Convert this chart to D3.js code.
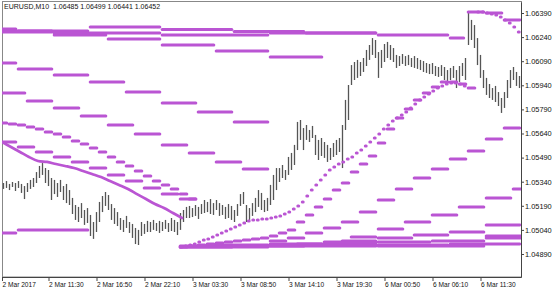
<!DOCTYPE html>
<html>
<head>
<meta charset="utf-8">
<script src="https://cdn.jsdelivr.net/npm/d3@7"></script>
<style>
body { margin: 0; background: #fff; }
svg { display: block; font-family: "Liberation Sans", Arial, sans-serif; }
</style>
</head>
<body>
<div id="container"></div>
<script>
// EURUSD M10 price bars (one entry per bar, high / low)
const highs = [
  1.05332,1.05344,1.05326,1.05338,1.05332,1.05344,1.05326,1.05313,1.05332,1.05351,
  1.05363,1.05400,1.05438,1.05456,1.05425,1.05413,1.05363,1.05351,1.05332,1.05351,
  1.05313,1.05326,1.05288,1.05239,1.05195,1.05183,1.05207,1.05164,1.05176,1.05133,
  1.05089,1.05151,1.05214,1.05251,1.05276,1.05257,1.05201,1.05176,1.05151,1.05114,
  1.05102,1.05127,1.05089,1.05077,1.05052,1.05040,1.05089,1.05077,1.05096,1.05089,
  1.05102,1.05083,1.05096,1.05089,1.05102,1.05083,1.05114,1.05102,1.05089,1.05145,
  1.05164,1.05183,1.05189,1.05176,1.05195,1.05183,1.05201,1.05226,1.05214,1.05232,
  1.05207,1.05226,1.05207,1.05195,1.05183,1.05201,1.05189,1.05164,1.05201,1.05263,
  1.05276,1.05195,1.05176,1.05207,1.05239,1.05288,1.05270,1.05226,1.05239,1.05320,
  1.05382,1.05425,1.05425,1.05444,1.05413,1.05494,1.05519,1.05569,1.05712,1.05724,
  1.05674,1.05693,1.05662,1.05687,1.05631,1.05600,1.05612,1.05587,1.05569,1.05550,
  1.05581,1.05600,1.05612,1.05693,1.05849,1.05942,1.06066,1.06085,1.06098,1.06085,
  1.06110,1.06160,1.06191,1.06234,1.06222,1.06147,1.06160,1.06197,1.06210,1.06191,
  1.06172,1.06129,1.06122,1.06135,1.06122,1.06129,1.06110,1.06122,1.06110,1.06098,
  1.06091,1.06079,1.06073,1.06079,1.06060,1.06054,1.06066,1.06054,1.06035,1.06048,
  1.06060,1.06035,1.06060,1.06079,1.06110,1.06396,1.06347,1.06315,1.06234,1.06129,
  1.06035,1.05986,1.05948,1.05923,1.05936,1.05898,1.05861,1.05898,1.05973,1.06035,
  1.06054,1.06023,1.05998
];
const lows = [
  1.05295,1.05301,1.05288,1.05307,1.05282,1.05301,1.05270,1.05232,1.05276,1.05295,
  1.05307,1.05332,1.05363,1.05382,1.05332,1.05313,1.05226,1.05263,1.05245,1.05276,
  1.05226,1.05207,1.05195,1.05139,1.05102,1.05089,1.05114,1.05071,1.05083,1.05002,
  1.04984,1.05027,1.05089,1.05151,1.05189,1.05164,1.05102,1.05077,1.05064,1.05040,
  1.05027,1.05052,1.05021,1.04990,1.04952,1.04946,1.05002,1.05015,1.05027,1.05027,
  1.05040,1.05033,1.05021,1.05033,1.05046,1.05027,1.05033,1.05027,1.05008,1.05040,
  1.05089,1.05114,1.05114,1.05120,1.05127,1.05108,1.05139,1.05145,1.05151,1.05139,
  1.05133,1.05164,1.05127,1.05133,1.05108,1.05114,1.05102,1.05089,1.05127,1.05189,
  1.05201,1.05089,1.05102,1.05127,1.05151,1.05183,1.05164,1.05151,1.05158,1.05195,
  1.05226,1.05288,1.05338,1.05363,1.05351,1.05382,1.05413,1.05444,1.05537,1.05600,
  1.05537,1.05600,1.05587,1.05612,1.05506,1.05475,1.05500,1.05488,1.05463,1.05475,
  1.05494,1.05506,1.05525,1.05425,1.05662,1.05724,1.05942,1.05973,1.05986,1.05998,
  1.06023,1.06060,1.06098,1.06129,1.06110,1.05986,1.06048,1.06085,1.06110,1.06098,
  1.06085,1.06048,1.06060,1.06073,1.06060,1.06066,1.06054,1.06048,1.06042,1.06035,
  1.06023,1.06017,1.06010,1.06010,1.05998,1.05992,1.05998,1.05973,1.05961,1.05973,
  1.05986,1.05923,1.05961,1.05998,1.05973,1.06191,1.06222,1.06172,1.06066,1.05986,
  1.05923,1.05880,1.05861,1.05849,1.05836,1.05811,1.05768,1.05799,1.05861,1.05923,
  1.05973,1.05936,1.05923
];

const yTicks = [1.06390, 1.06240, 1.06090, 1.05940, 1.05790, 1.05640, 1.05490, 1.05340, 1.05190, 1.05040, 1.04890];
const xTickBars = [0, 15.5, 31.5, 47.5, 63.5, 79.5, 95.5, 111.5, 127.5, 143.5, 159.5];
const xTickLabels = ["2 Mar 2017", "2 Mar 11:30", "2 Mar 16:50", "2 Mar 22:10", "3 Mar 03:30", "3 Mar 08:50",
                     "3 Mar 14:10", "3 Mar 19:30", "6 Mar 00:50", "6 Mar 06:10", "6 Mar 11:30"];
const title = "EURUSD,M10  1.06485 1.06499 1.06441 1.06452";

// higher timeframe averages, one level per higher-timeframe bar
const h6Top   = [1.06278, 1.06253, 1.06228, 1.06191, 1.06154, 1.06116];
const h8Top   = [1.06291, 1.06278, 1.06303, 1.06287, 1.06275, 1.06266, 1.06253, 1.06234];
const h12Top  = [1.06272, 1.06266, 1.06253, 1.06266];
const h4Down  = [1.06079, 1.06042, 1.06004, 1.05961, 1.05898, 1.05830, 1.05774, 1.05712];
const h3Down  = [1.05892, 1.05843, 1.05799, 1.05749, 1.05693, 1.05637, 1.05569, 1.05519, 1.05463, 1.05419];
const h2Down  = [1.05587, 1.05556, 1.05525, 1.05494, 1.05463, 1.05425, 1.05382, 1.05344, 1.05301, 1.05263, 1.05232];
const h1Down  = [1.05705, 1.05699, 1.05693, 1.05681, 1.05668, 1.05649, 1.05637, 1.05618, 1.05593, 1.05575, 1.05550,
                 1.05525, 1.05494, 1.05463, 1.05438, 1.05407, 1.05375, 1.05344, 1.05320, 1.05295, 1.05263, 1.05232];
const h8Left  = [1.05021, 1.05040];
const h2Up    = [1.04971, 1.04990, 1.05021, 1.05052, 1.05089, 1.05151, 1.05226, 1.05295, 1.05363, 1.05419,
                 1.05481, 1.05531, 1.05606, 1.05674];
const h3Up    = [1.04952, 1.04965, 1.04996, 1.05046, 1.05089, 1.05133, 1.05183, 1.05239, 1.05295];
const h4Up    = [1.04946, 1.04971, 1.04990, 1.05008, 1.05027, 1.05071];
const h6Low   = [1.04940, 1.04946, 1.04952, 1.04959, 1.04965, 1.04971, 1.05002];
const h8Low   = [1.04934, 1.04940, 1.04946, 1.04946, 1.04952];
const h12Low  = [1.04934, 1.04940, 1.04940, 1.04990];
const h1Up    = [1.04934, 1.04940, 1.04946, 1.04952, 1.04959, 1.04965, 1.04971, 1.04977, 1.04984, 1.04990,
                 1.05002, 1.05021, 1.05040, 1.05089, 1.05133, 1.05183, 1.05232, 1.05288, 1.05332, 1.05400,
                 1.05450, 1.05500, 1.05581, 1.05668, 1.05737, 1.05793, 1.05849, 1.05892, 1.05930, 1.05961,
                 1.05961, 1.05948, 1.05923];
const m30Up   = [1.04934, 1.04940, 1.04946, 1.04952, 1.04965, 1.04977, 1.04984, 1.04996, 1.05008, 1.05021,
                 1.05033, 1.05046, 1.05058, 1.05071, 1.05083, 1.05096, 1.05102, 1.05102, 1.05108, 1.05108,
                 1.05114, 1.05120, 1.05127, 1.05139, 1.05151, 1.05170, 1.05189, 1.05214, 1.05251, 1.05288,
                 1.05320, 1.05351, 1.05382, 1.05413, 1.05432, 1.05450, 1.05463, 1.05481, 1.05494, 1.05519,
                 1.05537, 1.05562, 1.05587, 1.05612, 1.05637, 1.05668, 1.05693, 1.05718, 1.05737, 1.05755,
                 1.05774, 1.05799, 1.05824, 1.05849, 1.05867, 1.05886, 1.05905, 1.05923, 1.05936, 1.05948,
                 1.05954, 1.05954, 1.05948, 1.05936];
const h2TopRight  = [1.06396, 1.06390, 1.06347];
const m30TopRight = [1.06396, 1.06396, 1.06390, 1.06384, 1.06378, 1.06365, 1.06347, 1.06328, 1.06303, 1.06272];
// smooth average on the left, one reading every 3 bars
const fastBars = [0, 3, 6, 9, 12, 15, 18, 21, 24, 27, 30, 33, 36, 39, 42, 45, 48, 51, 54, 57, 60];
const fastLine = [1.05587, 1.05556, 1.05525, 1.05494, 1.05469, 1.05463, 1.05450, 1.05438, 1.05425, 1.05407,
                  1.05388, 1.05369, 1.05344, 1.05320, 1.05295, 1.05263, 1.05232, 1.05201, 1.05176, 1.05145, 1.05114];

// start = bar index of the first higher-timeframe bar, period = its length in chart bars
const stepSeries = [
  {levels: h6Top, start: -1, period: 18},
  {levels: h8Top, start: -19, period: 24, to: 154.3},
  {levels: h12Top, start: -19, period: 36},
  {levels: h4Down, start: -7, period: 12},
  {levels: h3Down, start: -1, period: 9},
  {levels: h2Down, start: -1, period: 6},
  {levels: h1Down, start: -1, period: 3},
  {levels: h8Left, start: -19, period: 24},
  {levels: h2Up, start: 89, period: 6},
  {levels: h3Up, start: 98, period: 9},
  {levels: h4Up, start: 101, period: 12},
  {levels: h6Low, start: 53, period: 18, from: 59},
  {levels: h8Low, start: 53, period: 24, from: 59},
  {levels: h12Low, start: 53, period: 36, from: 59},
  {levels: h1Up, start: 59, period: 3},
  {levels: m30Up, start: 59, period: 1.5, dots: true},
  {levels: h2TopRight, start: 155, period: 6},
  {levels: m30TopRight, start: 158, period: 1.5, dots: true}
];

const width = 560, height = 294;
const plot = {left: 2, right: 521, top: 2, bottom: 277};
const maColor = "#BA55D3";

const svg = d3.select("#container")
  .append("svg")
  .attr("width", width)
  .attr("height", height);

svg.append("defs").append("clipPath")
  .attr("id", "plotclip")
  .append("rect")
  .attr("x", plot.left).attr("y", plot.top)
  .attr("width", plot.right - plot.left).attr("height", plot.bottom - plot.top);

const x = d3.scaleLinear().domain([0, highs.length]).range([plot.left, plot.right]);
const y = d3.scaleLinear().domain([1.047468, 1.064585]).range([plot.bottom, plot.top]);

// frame
svg.append("rect")
  .attr("x", plot.left + 0.5).attr("y", plot.top - 0.5)
  .attr("width", plot.right - plot.left).attr("height", plot.bottom - plot.top + 0.5)
  .attr("fill", "none")
  .attr("stroke", "#888");

const body = svg.append("g").attr("clip-path", "url(#plotclip)");

// price bars
body.selectAll(".bar")
  .data(highs)
  .enter()
  .append("line")
  .attr("class", "bar")
  .attr("x1", (d, i) => x(i + 0.5))
  .attr("x2", (d, i) => x(i + 0.5))
  .attr("y1", d => y(d))
  .attr("y2", (d, i) => y(lows[i]))
  .attr("stroke", "#555")
  .attr("stroke-width", 1.3);

// smooth average
body.append("path")
  .datum(fastLine)
  .attr("d", d3.line()
    .x((d, i) => x(fastBars[i]))
    .y(d => y(d))
    .curve(d3.curveCatmullRom))
  .attr("fill", "none")
  .attr("stroke", maColor)
  .attr("stroke-width", 2.7)
  .attr("stroke-linecap", "round");

// step averages
const segs = [];
stepSeries.forEach(s => {
  s.levels.forEach((v, k) => {
    let a = s.start + k * s.period, b = a + s.period;
    if (s.from != null) a = Math.max(a, s.from);
    if (s.to != null) b = Math.min(b, s.to);
    if (b <= a) return;
    segs.push({a: a, b: b, v: v, inset: s.dots ? 1.8 : 1.2});
  });
});

body.selectAll(".ma")
  .data(segs)
  .enter()
  .append("line")
  .attr("class", "ma")
  .attr("x1", d => x(d.a) + d.inset)
  .attr("x2", d => Math.max(x(d.a) + d.inset, x(d.b) - d.inset))
  .attr("y1", d => y(d.v))
  .attr("y2", d => y(d.v))
  .attr("stroke", maColor)
  .attr("stroke-width", 3)
  .attr("stroke-linecap", "round");

// axes
const yAxis = d3.axisRight(y)
  .tickValues(yTicks)
  .tickFormat(d3.format(".5f"))
  .tickSize(3)
  .tickSizeOuter(0)
  .tickPadding(1);

const gy = svg.append("g")
  .attr("transform", "translate(" + plot.right + ",0)")
  .call(yAxis);
gy.select(".domain").attr("stroke", "#444");
gy.selectAll(".tick line").attr("stroke", "#444");
gy.selectAll("text").attr("font-size", "7.4px").attr("fill", "#111")
  .attr("font-family", "'Liberation Sans', Arial, sans-serif");

const xAxis = d3.axisBottom(x)
  .tickValues(xTickBars)
  .tickFormat((d, i) => xTickLabels[i])
  .tickSize(4)
  .tickSizeOuter(0)
  .tickPadding(1);

const gx = svg.append("g")
  .attr("transform", "translate(0," + plot.bottom + ")")
  .call(xAxis);
gx.select(".domain").attr("stroke", "#444");
gx.selectAll(".tick line").attr("stroke", "#444");
gx.selectAll("text")
  .attr("text-anchor", "start")
  .attr("x", 0)
  .attr("font-size", "6.6px")
  .attr("fill", "#111")
  .attr("font-family", "'Liberation Sans', Arial, sans-serif");

svg.append("text")
  .attr("x", 4)
  .attr("y", 9)
  .attr("font-size", "7px")
  .attr("fill", "#111")
  .style("white-space", "pre")
  .text(title);
</script>
</body>
</html>
